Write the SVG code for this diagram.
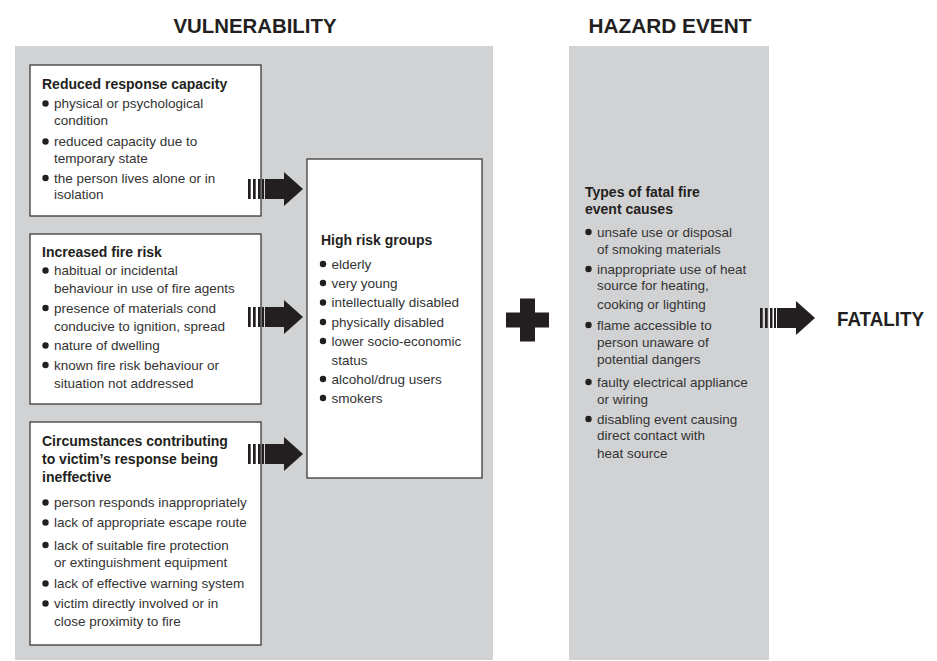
<svg xmlns="http://www.w3.org/2000/svg" xmlns:xlink="http://www.w3.org/1999/xlink" width="937" height="661" viewBox="0 0 937 661">
<style>
.panel{fill:#d1d2d4}
.box{fill:#ffffff;stroke:#3a3a3a;stroke-width:1.3}
.title{font-family:"Liberation Sans",Arial,sans-serif;font-weight:bold;font-size:21px;fill:#231f20}
.h{font-family:"Liberation Sans",Arial,sans-serif;font-weight:bold;font-size:14px;fill:#231f20}
.b{font-family:"Liberation Sans",Arial,sans-serif;font-size:13.5px;fill:#333333}
.dot{fill:#231f20}
.ink{fill:#231f20}
</style>
<defs>
<g id="arrow">
<rect x="0" y="-10" width="2.7" height="20"/>
<rect x="5" y="-10" width="2.7" height="20"/>
<rect x="10" y="-10" width="2.5" height="20"/>
<rect x="14" y="-10" width="2" height="20"/>
<rect x="17" y="-10" width="20" height="20"/>
<polygon points="36,-17 55,0 36,17"/>
</g>
</defs>
<rect width="937" height="661" fill="#ffffff"/>
<g id="panels">
<rect class="panel" x="15" y="46" width="478" height="614"/>
<rect class="panel" x="569" y="46" width="200" height="614"/>
</g>
<g id="titles">
<text class="title" x="255" y="33" text-anchor="middle" textLength="163" lengthAdjust="spacingAndGlyphs">VULNERABILITY</text>
<text class="title" x="670" y="33" text-anchor="middle" textLength="163" lengthAdjust="spacingAndGlyphs">HAZARD EVENT</text>
</g>
<g id="reduced-response">
<rect class="box" x="30" y="65" width="231" height="151"/>
<text class="h" x="42" y="89">Reduced response capacity</text>
<circle class="dot" cx="45.5" cy="103.5" r="3.2"/>
<text class="b" x="54" y="108">physical or psychological</text>
<text class="b" x="54" y="124.5">condition</text>
<circle class="dot" cx="45.5" cy="141.5" r="3.2"/>
<text class="b" x="54" y="146">reduced capacity due to</text>
<text class="b" x="54" y="162.5">temporary state</text>
<circle class="dot" cx="45.5" cy="178" r="3.2"/>
<text class="b" x="54" y="182.5">the person lives alone or in</text>
<text class="b" x="54" y="199">isolation</text>
</g>
<g id="increased-risk">
<rect class="box" x="30" y="234" width="231" height="170"/>
<text class="h" x="42" y="257">Increased fire risk</text>
<circle class="dot" cx="45.5" cy="270.5" r="3.2"/>
<text class="b" x="54" y="275">habitual or incidental</text>
<text class="b" x="54" y="292.5">behaviour in use of fire agents</text>
<circle class="dot" cx="45.5" cy="308" r="3.2"/>
<text class="b" x="54" y="312.5">presence of materials cond</text>
<text class="b" x="54" y="330.5">conducive to ignition, spread</text>
<circle class="dot" cx="45.5" cy="345.5" r="3.2"/>
<text class="b" x="54" y="350">nature of dwelling</text>
<circle class="dot" cx="45.5" cy="365" r="3.2"/>
<text class="b" x="54" y="369.5">known fire risk behaviour or</text>
<text class="b" x="54" y="387.5">situation not addressed</text>
</g>
<g id="circumstances">
<rect class="box" x="30" y="422" width="231" height="223"/>
<text class="h" x="42" y="446">Circumstances contributing</text>
<text class="h" x="42" y="464">to victim’s response being</text>
<text class="h" x="42" y="482">ineffective</text>
<circle class="dot" cx="45.5" cy="502.5" r="3.2"/>
<text class="b" x="54" y="507">person responds inappropriately</text>
<circle class="dot" cx="45.5" cy="522.5" r="3.2"/>
<text class="b" x="54" y="527">lack of appropriate escape route</text>
<circle class="dot" cx="45.5" cy="545" r="3.2"/>
<text class="b" x="54" y="549.5">lack of suitable fire protection</text>
<text class="b" x="54" y="566.5">or extinguishment equipment</text>
<circle class="dot" cx="45.5" cy="583.5" r="3.2"/>
<text class="b" x="54" y="588">lack of effective warning system</text>
<circle class="dot" cx="45.5" cy="603.5" r="3.2"/>
<text class="b" x="54" y="608">victim directly involved or in</text>
<text class="b" x="54" y="625.5">close proximity to fire</text>
</g>
<g id="high-risk-groups">
<rect class="box" x="307" y="159" width="175" height="319"/>
<text class="h" x="321" y="245">High risk groups</text>
<circle class="dot" cx="323" cy="264" r="3.2"/>
<text class="b" x="331.5" y="268.5">elderly</text>
<circle class="dot" cx="323" cy="283" r="3.2"/>
<text class="b" x="331.5" y="287.5">very young</text>
<circle class="dot" cx="323" cy="302.5" r="3.2"/>
<text class="b" x="331.5" y="307">intellectually disabled</text>
<circle class="dot" cx="323" cy="322" r="3.2"/>
<text class="b" x="331.5" y="326.5">physically disabled</text>
<circle class="dot" cx="323" cy="341" r="3.2"/>
<text class="b" x="331.5" y="345.5">lower socio-economic</text>
<text class="b" x="331.5" y="364.5">status</text>
<circle class="dot" cx="323" cy="379" r="3.2"/>
<text class="b" x="331.5" y="383.5">alcohol/drug users</text>
<circle class="dot" cx="323" cy="398" r="3.2"/>
<text class="b" x="331.5" y="402.5">smokers</text>
</g>
<g id="plus">
<rect class="ink" x="506" y="312.5" width="43" height="15"/>
<rect class="ink" x="520" y="298.5" width="15" height="43"/>
</g>
<g id="fire-causes">
<text class="h" x="585" y="196.5">Types of fatal fire</text>
<text class="h" x="585" y="213.5">event causes</text>
<circle class="dot" cx="588.5" cy="232" r="3.2"/>
<text class="b" x="597" y="236.5">unsafe use or disposal</text>
<text class="b" x="597" y="253.5">of smoking materials</text>
<circle class="dot" cx="588.5" cy="269" r="3.2"/>
<text class="b" x="597" y="273.5">inappropriate use of heat</text>
<text class="b" x="597" y="289.5">source for heating,</text>
<text class="b" x="597" y="308.5">cooking or lighting</text>
<circle class="dot" cx="588.5" cy="325" r="3.2"/>
<text class="b" x="597" y="329.5">flame accessible to</text>
<text class="b" x="597" y="346.5">person unaware of</text>
<text class="b" x="597" y="364">potential dangers</text>
<circle class="dot" cx="588.5" cy="382" r="3.2"/>
<text class="b" x="597" y="386.5">faulty electrical appliance</text>
<text class="b" x="597" y="403.5">or wiring</text>
<circle class="dot" cx="588.5" cy="419" r="3.2"/>
<text class="b" x="597" y="423.5">disabling event causing</text>
<text class="b" x="597" y="440">direct contact with</text>
<text class="b" x="597" y="457.5">heat source</text>
</g>
<g id="fatality">
<text class="title" x="837" y="326" font-size="20" textLength="87" lengthAdjust="spacingAndGlyphs">FATALITY</text>
</g>
<g id="connectors" class="ink">
<use xlink:href="#arrow" href="#arrow" x="248" y="189"/>
<use xlink:href="#arrow" href="#arrow" x="248" y="317"/>
<use xlink:href="#arrow" href="#arrow" x="248" y="454"/>
<use xlink:href="#arrow" href="#arrow" x="760" y="318"/>
</g>
</svg>
